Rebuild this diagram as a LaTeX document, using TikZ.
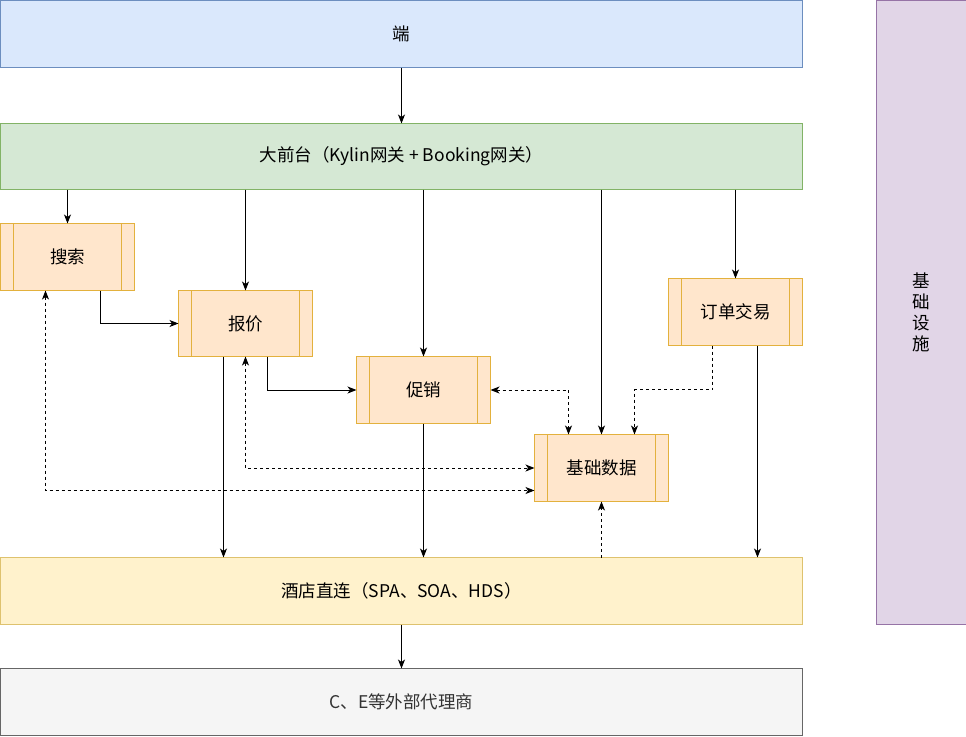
\documentclass[tikz,border=0pt]{standalone}
\usepackage{fontspec}
\setmainfont{Noto Sans CJK SC}
\usetikzlibrary{arrows.meta}
\definecolor{bluefill}{HTML}{DAE8FC}\definecolor{bluedraw}{HTML}{6C8EBF}
\definecolor{greenfill}{HTML}{D5E8D4}\definecolor{greendraw}{HTML}{82B366}
\definecolor{purpfill}{HTML}{E1D5E7}\definecolor{purpdraw}{HTML}{9673A6}
\definecolor{orgfill}{HTML}{FFE6CC}\definecolor{orgdraw}{HTML}{D79B00}
\definecolor{yelfill}{HTML}{FFF2CC}\definecolor{yeldraw}{HTML}{D6B656}
\definecolor{grayfill}{HTML}{F5F5F5}\definecolor{graydraw}{HTML}{666666}
\definecolor{graytext}{HTML}{333333}
\tikzset{
  box/.style={rectangle, inner sep=0pt, outer sep=0pt, line width=1pt, font=\fontsize{17.5}{21}\selectfont},
  wide/.style={box, minimum width=802pt, minimum height=67pt},
  proc/.style={box, fill=orgfill, draw=orgdraw!70!orgfill, minimum width=134pt, minimum height=67pt},
  procline/.style={draw=orgdraw!70!orgfill, line width=1pt},
  arr/.style={line width=1pt, -{Stealth[length=9pt,width=7pt,inset=2.5pt]}},
  darr/.style={arr, dash pattern=on 3pt off 3pt},
  dbarr/.style={darr, {Stealth[length=9pt,width=7pt,inset=2.5pt]}-{Stealth[length=9pt,width=7pt,inset=2.5pt]}},
}
\begin{document}
\begin{tikzpicture}[x=1pt,y=-1pt]
\useasboundingbox (-0.5,-0.5) rectangle (965.5,735.5);
\node[wide, fill=bluefill, draw=bluedraw] (duan) at (401,33.5) {端};
\node[wide, fill=greenfill, draw=greendraw, minimum height=66pt] (front) at (401,156) {大前台（Kylin网关 + Booking网关）};
\node[box, fill=purpfill, draw=purpdraw, minimum width=90pt, minimum height=623pt, align=center] (infra) at (920.5,312) {基\\础\\设\\施};
\node[proc] (search) at (67,256.5) {搜索};
\node[proc, minimum height=66pt] (price) at (245,323) {报价};
\node[proc] (promo) at (423,389.5) {促销};
\node[proc] (order) at (735,311.5) {订单交易};
\node[proc] (base) at (601,467.5) {基础数据};
\node[wide, fill=yelfill, draw=yeldraw!80!yelfill] (hotel) at (401,590.5) {酒店直连（SPA、SOA、HDS）};
\node[wide, fill=grayfill, draw=graydraw, text=graytext] (agent) at (401,701.5) {C、E等外部代理商};
\foreach \n in {search,price,promo,order,base}{
  \draw[procline] ([xshift=13.4pt]\n.north west) -- ([xshift=13.4pt]\n.south west);
  \draw[procline] ([xshift=-13.4pt]\n.north east) -- ([xshift=-13.4pt]\n.south east);
}
% solid connectors
\draw[arr] (duan.south) -- (front.north);
\draw[arr] (front.south -| search.north) -- (search.north);
\draw[arr] (front.south -| price.north) -- (price.north);
\draw[arr] (front.south -| promo.north) -- (promo.north);
\draw[arr] (front.south -| base.north) -- (base.north);
\draw[arr] (front.south -| order.north) -- (order.north);
\draw[arr] ([xshift=33pt]search.south) |- (price.west);
\draw[arr] ([xshift=22pt]price.south) |- (promo.west);
\draw[arr] ([xshift=-22pt]price.south) coordinate (p1) -- (p1 |- hotel.north);
\draw[arr] (promo.south) -- (promo.south |- hotel.north);
\draw[arr] ([xshift=22pt]order.south) coordinate (o1) -- (o1 |- hotel.north);
\draw[arr] (hotel.south) -- (agent.north);
% dashed connectors
\draw[darr] (base.south |- hotel.north) -- (base.south);
\draw[darr] ([xshift=-23pt]order.south) -- ++(0,44) coordinate (o2) -| ([xshift=33pt]base.north);
\draw[dbarr] (promo.east) -| ([xshift=-33pt]base.north);
\draw[dbarr] (price.south) |- (base.west);
\draw[dbarr] ([xshift=-22pt]search.south) |- ([yshift=-22.5pt]base.west);
\end{tikzpicture}
\end{document}
